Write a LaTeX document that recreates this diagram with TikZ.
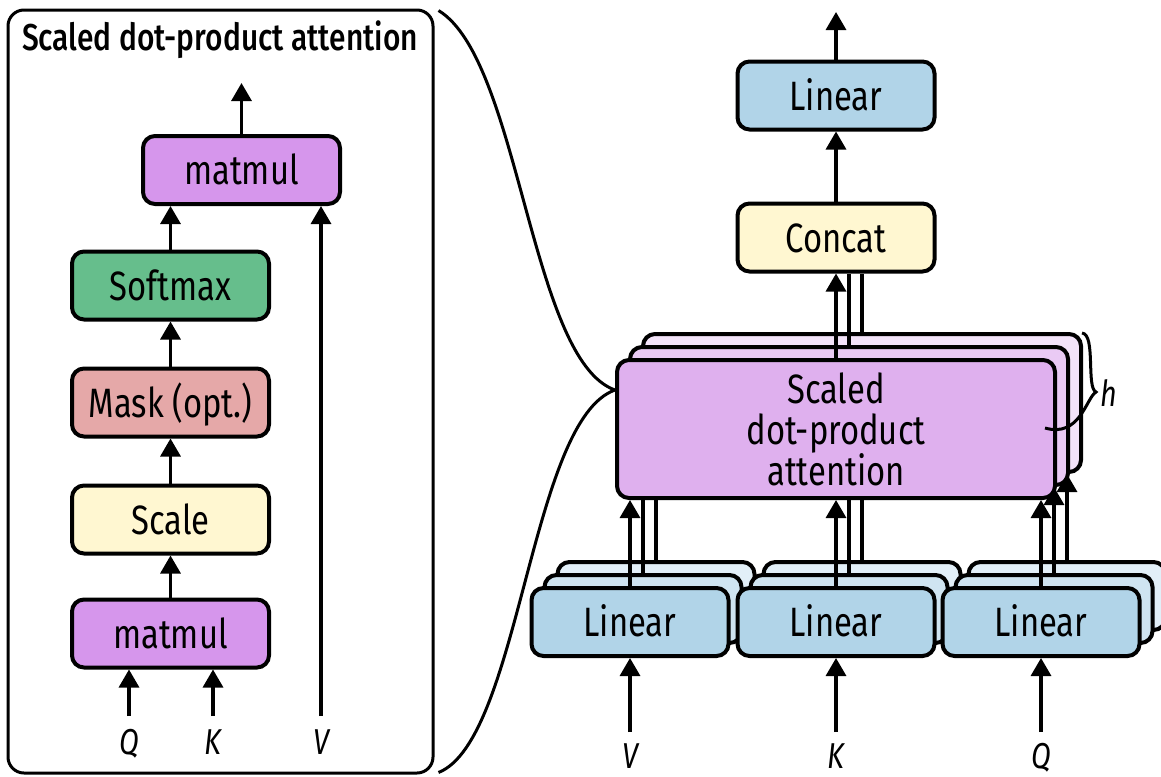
\documentclass[tikz,border=0pt]{standalone}
\usepackage{fontspec}
\setmainfont{Fira Sans}[FakeStretch=0.8]
\newfontfamily\titlefont{Fira Sans Medium}[FakeStretch=0.8]
\usetikzlibrary{arrows.meta}
\definecolor{MatPurple}{HTML}{D696EC}
\definecolor{SoftGreen}{HTML}{66BE8C}
\definecolor{MaskRed}{HTML}{E5A8A8}
\definecolor{ScaleYellow}{HTML}{FFF7D1}
\definecolor{LinA}{HTML}{B1D4E8}
\definecolor{LinB}{HTML}{CFE4F1}
\definecolor{LinC}{HTML}{E2EFF8}
\definecolor{AttA}{HTML}{DFB0EE}
\definecolor{AttB}{HTML}{EACAF4}
\definecolor{AttC}{HTML}{F3E3F9}

\begin{document}
\begin{tikzpicture}[x=0.5pt, y=-0.5pt,
    box/.style={draw=black, line width=2pt, rounded corners=6pt,
                minimum width=98.5pt, minimum height=34pt, inner sep=0pt,
                text height=14.5pt, text depth=0pt,
                font=\fontsize{20.5}{20.5}\selectfont},
    mmbox/.style={box, fill=MatPurple},
    softbox/.style={box, fill=SoftGreen},
    maskbox/.style={box, fill=MaskRed},
    scalebox/.style={box, fill=ScaleYellow},
    linbox/.style={box, fill=LinA},
    attbox/.style={draw=black, line width=2pt, rounded corners=6pt,
                   minimum width=219pt, minimum height=69pt, inner sep=0pt,
                   align=center, font=\fontsize{20.5}{20.5}\selectfont},
    panel/.style={draw=black, line width=1.5pt, rounded corners=8pt,
                  minimum width=212.5pt, minimum height=381.5pt},
    io/.style={font=\fontsize{18}{18}\selectfont\itshape, inner xsep=0pt,
               inner ysep=2pt, text height=12.5pt, text depth=0pt},
    arrow/.style={-{Triangle[length=9pt, width=10pt]}, line width=1.6pt},
    link/.style={line width=1.6pt},
    curve/.style={line width=1.5pt}
]
\useasboundingbox (0,0) rectangle (1161,776);

% left panel: scaled dot-product attention
\node[panel] (panel) at (220.5,391.5) {};
\node[font=\titlefont\fontsize{18.7}{18.7}\selectfont] (title) at (220,40)
    {Scaled dot-product attention};
\node[mmbox] (mmTop) at (241.5,170) {matmul};
\node[softbox] (softmax) at (170.5,285.5) {Softmax};
\node[maskbox] (mask) at (170.5,402.5) {Mask (opt.)};
\node[scalebox] (scale) at (170.5,519.5) {Scale};
\node[mmbox] (mmBot) at (170.5,633.5) {matmul};
\node[io] (qL) at (129,742) {Q};
\node[io] (kL) at (213,742) {K};
\node[io] (vL) at (321,742) {V};
\coordinate (outL) at (241.5,83);

\draw[arrow] (mmTop.north) -- (outL);
\draw[arrow] (softmax.north) -- (softmax.north |- mmTop.south);
\draw[arrow] (mask) -- (softmax);
\draw[arrow] (scale) -- (mask);
\draw[arrow] (mmBot) -- (scale);
\draw[arrow] ([yshift=4.5pt]qL.north) -- (qL.north |- mmBot.south);
\draw[arrow] ([yshift=4.5pt]kL.north) -- (kL.north |- mmBot.south);
\draw[arrow] ([yshift=4.5pt]vL.north) -- (vL.north |- mmTop.south);

% right side: multi-head attention
\node[linbox] (linOut) at (836,95.5) {Linear};
\node[scalebox] (concat) at (836,237.5) {Concat};
\coordinate (outR) at (836,12);

\node[attbox, fill=AttC] (att3) at (862,403) {};
\node[attbox, fill=AttB] (att2) at (849,416) {};
\node[attbox, fill=AttA] (att1) at (836,429) {Scaled\\dot-product\\attention};

\foreach \nm/\xx in {V/630,K/836,Q/1041} {
  \node[linbox, fill=LinC] (lin\nm3) at (\xx+26,596) {};
  \node[linbox, fill=LinB] (lin\nm2) at (\xx+13,609) {};
  \node[linbox] (lin\nm1) at (\xx,622) {Linear};
  \node[io] (\nm R) at (\xx,756) {\nm};
  \draw[arrow] ([yshift=3.5pt]\nm R.north) -- (\nm R.north |- lin\nm1.south);
  \draw[arrow] (lin\nm1.north) -- (lin\nm1.north |- att1.south);
}
\foreach \nm in {V,K} {
  \draw[link] (lin\nm2.north) -- (lin\nm2.north |- att1.south);
  \draw[link] (lin\nm3.north) -- (lin\nm3.north |- att1.south);
}
\draw[arrow] (linQ2.north) -- (linQ2.north |- att2.south);
\draw[arrow] (linQ3.north) -- (linQ3.north |- att3.south);

\draw[arrow] (att1.north) -- (concat.south);
\draw[link] (att2.north) -- (att2.north |- concat.south);
\draw[link] (att3.north) -- (att3.north |- concat.south);
\draw[arrow] (concat) -- (linOut);
\draw[arrow] (linOut.north) -- (outR);

% h heads brace
\draw[curve] (1082,333) .. controls (1096,334) and (1086,388) .. (1096,392)
    .. controls (1086,398) and (1080,438) .. (1045,428);
\node[font=\fontsize{18}{18}\selectfont\itshape] (hLbl) at (1109,393) {h};

% zoom curves from the panel to the attention block
\draw[curve] ([xshift=2pt,yshift=-1pt]panel.north east)
    .. controls (520,60) and (530,360) .. ([yshift=19.5pt]att1.west);
\draw[curve] ([xshift=2pt,yshift=1pt]panel.south east)
    .. controls (520,740) and (530,420) .. ([yshift=19.5pt]att1.west);
\end{tikzpicture}
\end{document}
